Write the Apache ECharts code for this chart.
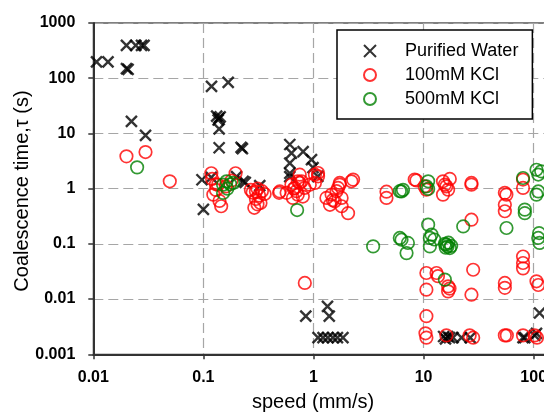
<!DOCTYPE html>
<html>
<head>
<meta charset="utf-8">
<script src="https://cdn.jsdelivr.net/npm/echarts@6/dist/echarts.min.js"></script>
<style>
  html, body { margin: 0; padding: 0; background: #fff; }
  #chart { width: 544px; height: 412px; }
</style>
</head>
<body>
<div id="chart"></div>
<script>
// Coalescence time versus approach speed for three liquids (log-log)
const seriesNames = ['Purified Water', '100mM KCl', '500mM KCl'];

const xTickLabels = ['0.01', '0.1', '1', '10', '100', '1000'];
const yTickLabels = ['0.001', '0.01', '0.1', '1', '10', '100', '1000'];

// [speed (mm/s), coalescence time (s)]
const purifiedWater = [
  [0.0107, 197], [0.0136, 197],
  [0.020, 394], [0.0243, 394], [0.0274, 394], [0.0289, 394],
  [0.020, 149], [0.0207, 145],
  [0.0222, 16.6], [0.0298, 9.2],
  [0.1185, 71], [0.168, 84],
  [0.132, 20.5], [0.138, 19], [0.142, 20], [0.136, 17.5],
  [0.139, 12.1], [0.139, 5.5],
  [0.22, 5.6], [0.226, 5.3],
  [0.097, 1.45], [0.118, 1.6], [0.2, 1.65], [0.23, 1.35], [0.24, 1.3], [0.325, 1.13],
  [0.100, 0.42],
  [0.609, 6.3], [0.631, 4.4], [0.805, 4.7], [0.609, 2.9], [0.959, 3.35], [0.609, 1.9],
  [0.99, 2.4], [1.094, 1.67], [0.609, 1.65],
  [0.851, 0.0049], [1.34, 0.0074], [1.39, 0.0049],
  [1.1, 0.002], [1.22, 0.002], [1.35, 0.002], [1.5, 0.002], [1.65, 0.002], [1.85, 0.002],
  [15.2, 0.0021], [15.8, 0.0019], [16.5, 0.0021], [17.2, 0.002], [18.5, 0.002], [22.1, 0.002], [26.5, 0.002],
  [80, 0.002], [83, 0.002], [102, 0.0022], [106, 0.0024], [113, 0.0056]
];

const kcl100 = [
  [0.020, 3.85], [0.0298, 4.6], [0.0495, 1.36],
  [0.118, 1.9], [0.12, 1.5], [0.123, 0.78], [0.13, 1.2], [0.136, 1.18], [0.14, 0.6], [0.145, 0.48],
  [0.18, 1.4], [0.196, 1.9], [0.16, 1.1], [0.13, 0.95],
  [0.27, 0.95], [0.28, 0.85], [0.30, 0.89], [0.32, 0.75], [0.30, 0.65], [0.33, 0.55], [0.31, 0.52],
  [0.29, 0.45], [0.34, 0.9], [0.36, 0.8], [0.31, 1.0],
  [0.487, 0.84], [0.494, 0.89],
  [0.57, 0.84], [0.63, 1.18], [0.676, 1.03], [0.72, 1.36], [0.75, 1.27], [0.83, 1.03], [0.72, 0.78],
  [0.65, 0.68], [0.80, 0.72], [0.925, 1.18], [1.1, 1.67], [1.03, 1.27], [0.75, 1.79], [1.03, 1.79],
  [1.1, 1.92], [0.78, 1.36], [0.66, 1.0], [0.7, 0.9],
  [1.31, 0.68], [1.46, 0.78], [1.67, 1.03], [1.73, 1.27], [2.29, 1.46], [1.56, 0.59], [1.8, 0.48],
  [2.06, 0.36], [1.41, 0.51], [1.8, 0.68], [1.62, 0.9], [1.73, 1.18], [2.21, 1.36], [1.5, 0.62],
  [4.6, 0.88], [4.6, 0.68],
  [8.3, 1.46], [8.6, 1.41], [10.6, 0.96], [10.2, 1.1], [15.6, 1.18], [17.3, 1.5], [16.7, 0.96],
  [16.1, 1.1], [15, 0.78], [15, 1.36], [27.2, 1.27], [27.2, 1.18],
  [27.2, 0.274],
  [54.7, 0.84], [54.7, 0.51], [54.7, 0.39], [56.5, 0.78], [80, 1.46], [80, 1.03],
  [80, 0.059], [80, 0.045], [80, 0.036],
  [0.834, 0.0196],
  [10.6, 0.0297], [13.1, 0.0297], [13.5, 0.026], [10.6, 0.0148], [16.7, 0.017], [16.7, 0.0138],
  [17.2, 0.0155], [28.2, 0.034], [27.2, 0.012], [54.7, 0.0196], [54.7, 0.016], [106, 0.021], [110, 0.018],
  [10.6, 0.0049],
  [10.4, 0.0024], [10.6, 0.002], [16.1, 0.0022], [26.2, 0.0022], [28.2, 0.002], [54.7, 0.0022],
  [57, 0.0022], [80, 0.0022], [102, 0.0022], [107, 0.002]
];

const kcl500 = [
  [0.025, 2.43],
  [0.151, 1.18], [0.162, 1.36], [0.186, 1.27], [0.151, 0.836], [0.165, 1.0], [0.175, 1.2],
  [0.71, 0.41],
  [3.48, 0.09],
  [6.08, 0.9], [6.5, 0.95], [6.3, 0.89],
  [6.08, 0.128], [7.2, 0.104], [7.0, 0.068], [6.3, 0.119],
  [10.6, 1.1], [11, 0.99], [11, 1.36],
  [11, 0.223], [11.8, 0.147], [11.4, 0.128], [11.4, 0.09], [12.5, 0.12],
  [15.6, 0.1], [16.1, 0.097], [16.5, 0.09], [17.3, 0.084], [16.8, 0.105], [17.8, 0.092], [15.9, 0.085],
  [22.9, 0.207],
  [15.6, 0.0225],
  [56.6, 0.194],
  [80, 1.56], [83, 0.417], [83, 0.36],
  [106, 2.2], [110, 1.8], [117, 2.06], [106, 0.78], [110, 0.89],
  [110, 0.128], [112, 0.157], [113, 0.104]
];

const FONT = '"Liberation Sans", Arial, sans-serif';
const CROSS = 'path://M0,0L10,10M0,10L10,0';

function tickText(labels, minExp) {
  return function (v) {
    const i = Math.round(Math.log10(v)) - minExp;
    return labels[i] !== undefined ? labels[i] : '';
  };
}

const chart = echarts.init(document.getElementById('chart'), null, { renderer: 'canvas' });

const axisLine = { show: true, lineStyle: { color: '#333', width: 2 } };
const axisTick = { show: true, inside: false, length: 5, lineStyle: { color: '#333', width: 1.5 } };
const splitLine = { show: true, lineStyle: { color: '#a6a6a6', width: 1.2, type: [10, 5] } };

chart.setOption({
  animation: false,
  backgroundColor: '#fff',
  grid: {
    left: 93.3, top: 23, width: 550.5, height: 331.3,
    outerBoundsMode: 'none', containLabel: false,
    show: true, borderColor: '#000', borderWidth: 1, backgroundColor: 'transparent'
  },
  xAxis: {
    type: 'log', logBase: 10, min: 0.01, max: 1000,
    axisLine: axisLine, axisTick: axisTick, splitLine: splitLine,
    minorTick: { show: false }, minorSplitLine: { show: false },
    axisLabel: {
      margin: 15, color: '#000', fontFamily: FONT, fontSize: 16, fontWeight: 'bold',
      formatter: tickText(xTickLabels, -2), showMinLabel: true, showMaxLabel: true,
      hideOverlap: false
    }
  },
  yAxis: {
    type: 'log', logBase: 10, min: 0.001, max: 1000,
    axisLine: axisLine, axisTick: axisTick, splitLine: splitLine,
    minorTick: { show: false }, minorSplitLine: { show: false },
    axisLabel: {
      margin: 18, color: '#000', fontFamily: FONT, fontSize: 16, fontWeight: 'bold',
      formatter: tickText(yTickLabels, -3), showMinLabel: true, showMaxLabel: true
    }
  },
  legend: {
    orient: 'vertical', left: 337, top: 30,
    padding: [12, 14, 11, 26], itemGap: 6,
    itemWidth: 12, itemHeight: 12,
    backgroundColor: '#fff', borderColor: '#000', borderWidth: 1.5,
    textStyle: { fontFamily: FONT, fontSize: 18, color: '#000', padding: [0, 0, 0, 24] },
    data: seriesNames
  },
  graphic: [
    {
      type: 'text', left: 252, top: 392,
      style: { text: 'speed (mm/s)', font: '20px ' + FONT, fill: '#000' }
    },
    {
      type: 'text', x: 22, y: 191, rotation: Math.PI / 2,
      style: {
        text: 'Coalescence time,\u03c4 (s)', font: '20px ' + FONT, fill: '#000',
        align: 'center', verticalAlign: 'middle'
      }
    }
  ],
  series: [
    {
      name: seriesNames[0], type: 'scatter', data: purifiedWater,
      symbol: CROSS, symbolSize: 11, z: 2,
      itemStyle: { color: 'rgba(0,0,0,0)', borderColor: '#000', borderWidth: 2.4 }
    },
    {
      name: seriesNames[1], type: 'scatter', data: kcl100,
      symbol: 'circle', symbolSize: 12.5, z: 3,
      itemStyle: { color: 'rgba(0,0,0,0)', borderColor: '#ff0000', borderWidth: 1.7 }
    },
    {
      name: seriesNames[2], type: 'scatter', data: kcl500,
      symbol: 'circle', symbolSize: 12.5, z: 4,
      itemStyle: { color: 'rgba(0,0,0,0)', borderColor: '#008000', borderWidth: 1.7 }
    }
  ]
});
</script>
</body>
</html>
